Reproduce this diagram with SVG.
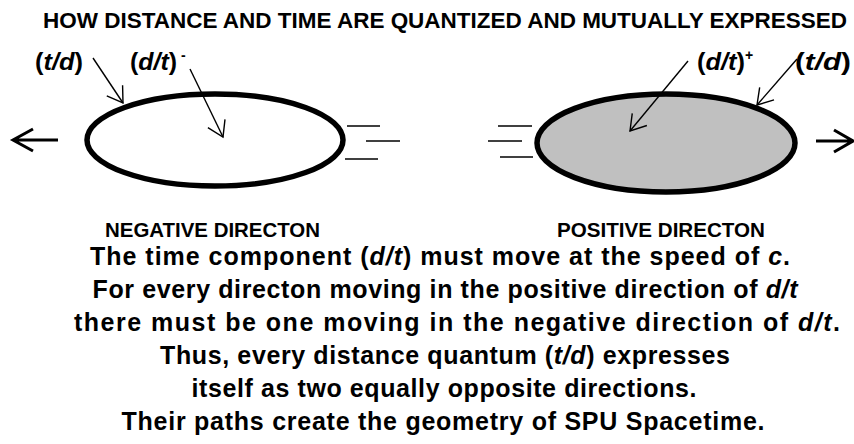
<svg xmlns="http://www.w3.org/2000/svg" width="854" height="444" viewBox="0 0 854 444">
<style>
text{font-family:"Liberation Sans",Arial,sans-serif;font-weight:bold;fill:#000}
.t{font-size:21.5px}
.lab{font-size:21px}
.sym{font-size:24px}
.body{font-size:25px}
.i{font-style:italic}
.ell{stroke:#000;stroke-width:5.5}
.thin{stroke:#000;stroke-width:1.4;fill:none}
.spd{stroke:#000;stroke-width:1.6}
.big{stroke:#000;stroke-width:3;fill:none}
</style>
<defs>
<marker id="ah" markerUnits="userSpaceOnUse" viewBox="-17 -11 19 22" refX="0" refY="0" markerWidth="19" markerHeight="22" orient="auto">
<path d="M-15,-9.5 L0,0 L-15,9.5" fill="none" stroke="#000" stroke-width="1.4"/>
</marker>
</defs>
<rect width="854" height="444" fill="#fff"/>
<text class="t" x="43" y="28" textLength="804" lengthAdjust="spacingAndGlyphs">HOW DISTANCE AND TIME ARE QUANTIZED AND MUTUALLY EXPRESSED</text>

<g id="negative">
<ellipse class="ell" cx="215" cy="140" rx="128" ry="46" fill="#fff"/>
</g>
<g id="positive">
<ellipse class="ell" cx="666" cy="143" rx="129" ry="49" fill="#c0c0c0"/>
</g>

<g id="labels">
<text class="sym" x="35" y="70" textLength="48" lengthAdjust="spacingAndGlyphs">(<tspan class="i">t/d</tspan>)</text>
<text class="sym" x="130" y="70" textLength="47" lengthAdjust="spacingAndGlyphs">(<tspan class="i">d/t</tspan>)</text>
<text x="181" y="60" style="font-size:14px">-</text>
<text class="sym" x="697" y="70" textLength="48" lengthAdjust="spacingAndGlyphs">(<tspan class="i">d/t</tspan>)</text>
<text x="745" y="60" style="font-size:14px">+</text>
<text class="sym" x="795" y="70" textLength="56" lengthAdjust="spacingAndGlyphs">(<tspan class="i">t/d</tspan>)</text>
</g>

<g id="connectors">
<line class="thin" x1="93" y1="58" x2="123" y2="103" marker-end="url(#ah)"/>
<line class="thin" x1="190" y1="69" x2="223" y2="137" marker-end="url(#ah)"/>
<line class="thin" x1="688" y1="61" x2="630" y2="131" marker-end="url(#ah)"/>
<line class="thin" x1="797" y1="59" x2="757" y2="105" marker-end="url(#ah)"/>
<path class="big" d="M58,140 H13 M33,129 L13,140 L33,151"/>
<path class="big" d="M816,141 H853 M834,130 L853,141 L834,152"/>
<line class="spd" x1="347" y1="126" x2="380" y2="126"/>
<line class="spd" x1="366" y1="141" x2="400" y2="141"/>
<line class="spd" x1="345" y1="159" x2="378" y2="159"/>
<line class="spd" x1="498" y1="126" x2="532" y2="126"/>
<line class="spd" x1="488" y1="141" x2="522" y2="141"/>
<line class="spd" x1="500" y1="157" x2="533" y2="157"/>
</g>

<text class="lab" x="105" y="237" textLength="215" lengthAdjust="spacingAndGlyphs">NEGATIVE DIRECTON</text>
<text class="lab" x="557" y="237" textLength="208" lengthAdjust="spacingAndGlyphs">POSITIVE DIRECTON</text>

<g text-anchor="middle">
<text class="body" x="440" y="265" textLength="700" lengthAdjust="spacing">The time component (<tspan class="i">d/t</tspan>) must move at the speed of <tspan class="i">c</tspan>.</text>
<text class="body" x="445" y="298" textLength="705" lengthAdjust="spacing">For every directon moving in the positive direction of <tspan class="i">d/t</tspan></text>
<text class="body" x="457" y="331" textLength="766" lengthAdjust="spacing">there must be one moving in the negative direction of <tspan class="i">d/t</tspan>.</text>
<text class="body" x="445" y="364" textLength="570" lengthAdjust="spacing">Thus, every distance quantum (<tspan class="i">t/d</tspan>) expresses</text>
<text class="body" x="444" y="397" textLength="505" lengthAdjust="spacing">itself as two equally opposite directions.</text>
<text class="body" x="443" y="430" textLength="643" lengthAdjust="spacing">Their paths create the geometry of SPU Spacetime.</text>
</g>
</svg>
